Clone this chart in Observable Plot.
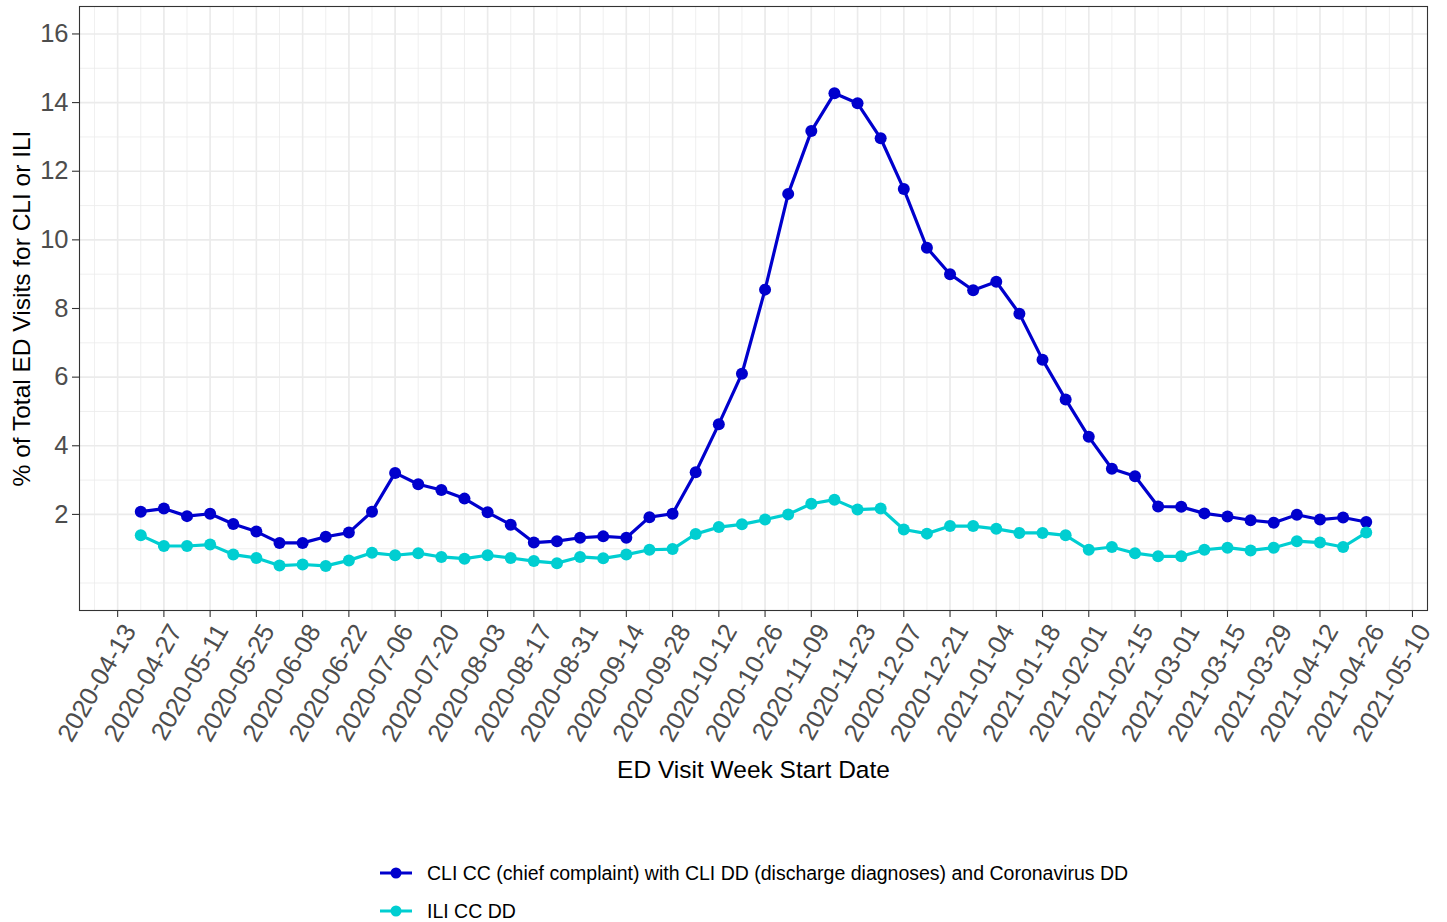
<!DOCTYPE html>
<html>
<head>
<meta charset="utf-8">
<script src="https://cdn.jsdelivr.net/npm/d3@7"></script>
<script src="https://cdn.jsdelivr.net/npm/@observablehq/plot@0.6"></script>
<style>
  body { margin: 0; background: #fff; font-family: Arial, "Liberation Sans", sans-serif; }
  #legend { margin-top: 54px; margin-left: 380px; }
  .row { display: flex; align-items: center; height: 38px; font-size: 19.5px; color: #000; }
  .row svg { margin-right: 15px; }
</style>
</head>
<body>
<div id="chart"></div>
<div id="legend"></div>
<script>
const weekDates = [
  "2020-04-20","2020-04-27","2020-05-04","2020-05-11","2020-05-18","2020-05-25","2020-06-01","2020-06-08","2020-06-15","2020-06-22",
  "2020-06-29","2020-07-06","2020-07-13","2020-07-20","2020-07-27","2020-08-03","2020-08-10","2020-08-17","2020-08-24","2020-08-31",
  "2020-09-07","2020-09-14","2020-09-21","2020-09-28","2020-10-05","2020-10-12","2020-10-19","2020-10-26","2020-11-02","2020-11-09",
  "2020-11-16","2020-11-23","2020-11-30","2020-12-07","2020-12-14","2020-12-21","2020-12-28","2021-01-04","2021-01-11","2021-01-18",
  "2021-01-25","2021-02-01","2021-02-08","2021-02-15","2021-02-22","2021-03-01","2021-03-08","2021-03-15","2021-03-22","2021-03-29",
  "2021-04-05","2021-04-12","2021-04-19","2021-04-26"
];
const cliValues = [
  2.08, 2.17, 1.95, 2.02, 1.72, 1.50, 1.17, 1.17, 1.35, 1.47,
  2.08, 3.21, 2.88, 2.71, 2.46, 2.06, 1.70, 1.18, 1.22, 1.32,
  1.36, 1.32, 1.92, 2.02, 3.23, 4.63, 6.10, 8.55, 11.34, 13.17,
  14.27, 13.98, 12.96, 11.48, 9.77, 9.00, 8.53, 8.78, 7.85, 6.51,
  5.35, 4.26, 3.33, 3.11, 2.23, 2.22, 2.03, 1.94, 1.83, 1.76,
  1.99, 1.85, 1.91, 1.78
];
const iliValues = [
  1.39, 1.08, 1.08, 1.12, 0.83, 0.73, 0.51, 0.54, 0.50, 0.66,
  0.88, 0.81, 0.87, 0.76, 0.71, 0.81, 0.73, 0.64, 0.58, 0.76,
  0.72, 0.83, 0.97, 0.99, 1.43, 1.63, 1.71, 1.85, 2.00, 2.31,
  2.43, 2.14, 2.17, 1.56, 1.44, 1.66, 1.66, 1.58, 1.46, 1.46,
  1.39, 0.97, 1.05, 0.87, 0.78, 0.78, 0.97, 1.03, 0.95, 1.03,
  1.22, 1.18, 1.05, 1.47
];
const seriesNames = [
  "CLI CC (chief complaint) with CLI DD (discharge diagnoses) and Coronavirus DD",
  "ILI CC DD"
];
const seriesColors = ["#0000CD", "#00CED1"];
const xTickLabels = [
  "2020-04-13","2020-04-27","2020-05-11","2020-05-25","2020-06-08","2020-06-22","2020-07-06","2020-07-20",
  "2020-08-03","2020-08-17","2020-08-31","2020-09-14","2020-09-28","2020-10-12","2020-10-26","2020-11-09",
  "2020-11-23","2020-12-07","2020-12-21","2021-01-04","2021-01-18","2021-02-01","2021-02-15","2021-03-01",
  "2021-03-15","2021-03-29","2021-04-12","2021-04-26","2021-05-10"
];
const xMinorGrid = ["2020-04-06", ...weekDates, "2021-05-03"];
const yTicks = [2, 4, 6, 8, 10, 12, 14, 16];
const yMinorGrid = [0, 1, 3, 5, 7, 9, 11, 13, 15];
const yDomain = [-0.8, 16.8];
const xTitle = "ED Visit Week Start Date";
const yTitle = "% of Total ED Visits for CLI or ILI";

const parse = d3.utcParse("%Y-%m-%d");
const seriesValues = [cliValues, iliValues];
const rows = [];
seriesNames.forEach((s, k) => {
  weekDates.forEach((d, i) => rows.push({date: parse(d), value: seriesValues[k][i], series: s}));
});
const d0 = parse(weekDates[0]), d1 = parse(weekDates[weekDates.length - 1]);
const pad = (d1 - d0) * 0.05;
const xDomain = [new Date(+d0 - pad), new Date(+d1 + pad)];

const font = 'Arial, "Liberation Sans", sans-serif';
const chart = Plot.plot({
  width: 1447,
  height: 800,
  marginTop: 6,
  marginLeft: 79,
  marginRight: 20,
  marginBottom: 190,
  style: {fontFamily: font, fontSize: "25.5px", background: "#fff", overflow: "visible"},
  x: {type: "utc", domain: xDomain},
  y: {domain: yDomain},
  color: {domain: seriesNames, range: seriesColors},
  marks: [
    Plot.ruleX(xMinorGrid.map(parse), {stroke: "#EBEBEB", strokeWidth: 0.8}),
    Plot.ruleX(xTickLabels.map(parse), {stroke: "#EBEBEB", strokeWidth: 1.6}),
    Plot.ruleY(yMinorGrid, {stroke: "#EBEBEB", strokeWidth: 0.8}),
    Plot.ruleY(yTicks, {stroke: "#EBEBEB", strokeWidth: 1.6}),
    Plot.line(rows, {x: "date", y: "value", stroke: "series", strokeWidth: 3.2}),
    Plot.dot(rows, {x: "date", y: "value", fill: "series", r: 6}),
    Plot.frame({stroke: "#333", strokeWidth: 1.1}),
    Plot.axisY({ticks: yTicks, tickSize: 7, tickPadding: 4, tickFormat: d => String(d), label: null,
                stroke: "#333", strokeWidth: 1.1, fill: "#4D4D4D"}),
    Plot.axisX({ticks: xTickLabels.map(parse), tickFormat: d3.utcFormat("%Y-%m-%d"), tickRotate: -60,
                tickSize: 7, tickPadding: 4, label: null, stroke: "#333", strokeWidth: 1.1, fill: "#4D4D4D"}),
    Plot.text([xTitle], {text: d => d, frameAnchor: "bottom", dy: 167, fontSize: 24.5, fill: "#000"}),
    Plot.text([yTitle], {text: d => d, frameAnchor: "left", textAnchor: "middle", rotate: -90, dx: -57, fontSize: 24.5, fill: "#000"})
  ]
});
// shift rotated x tick labels to match ggplot's hjust/vjust placement
chart.querySelectorAll('g[aria-label="x-axis tick label"]').forEach(g => {
  const t = g.getAttribute("transform") || "";
  g.setAttribute("transform", `translate(12,5) ${t}`);
});
document.getElementById("chart").appendChild(chart);

const legend = document.getElementById("legend");
seriesNames.forEach((s, k) => {
  const row = document.createElement("div");
  row.className = "row";
  row.innerHTML = `<svg width="32" height="20"><line x1="0" x2="32" y1="10" y2="10" stroke="${seriesColors[k]}" stroke-width="3"/><circle cx="16" cy="10" r="5.5" fill="${seriesColors[k]}"/></svg><span>${s}</span>`;
  legend.appendChild(row);
});
</script>
</body>
</html>
